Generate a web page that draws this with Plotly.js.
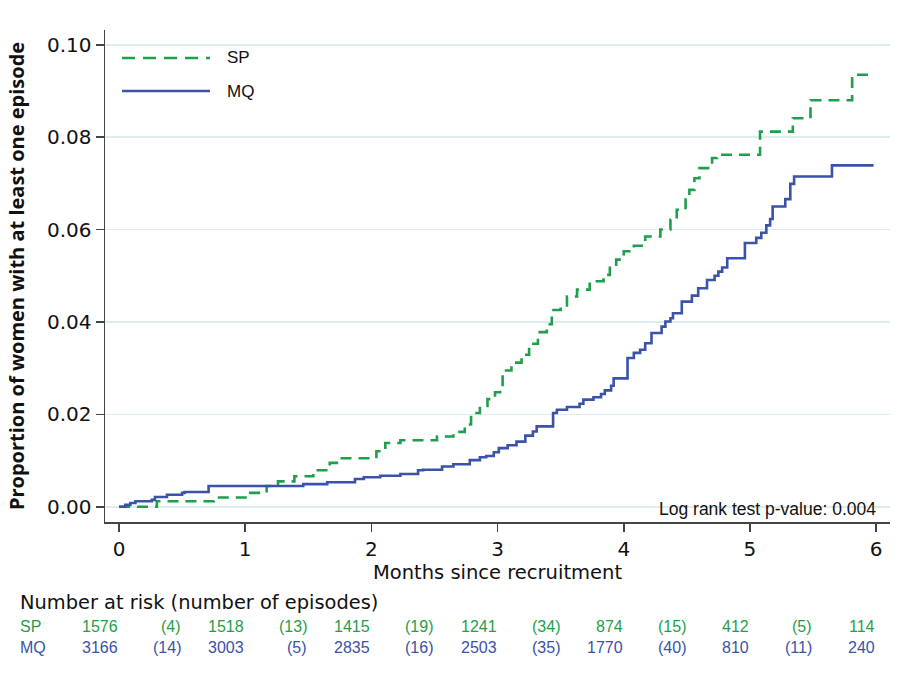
<!DOCTYPE html>
<html>
<head>
<meta charset="utf-8">
<script src="https://cdn.plot.ly/plotly-3.0.1.min.js"></script>
<style>html,body{margin:0;padding:0;background:#fff;}#chart{width:905px;height:679px;}</style>
</head>
<body>
<div id="chart"></div>
<script>
// Kaplan-Meier style cumulative proportions (step changes)
const spMonths = [0, 0.30, 0.75, 1.04, 1.17, 1.26, 1.39, 1.54, 1.67, 1.74, 2.04, 2.11, 2.23, 2.52, 2.65, 2.74, 2.79, 2.86, 2.92, 2.98, 3.02, 3.04, 3.11, 3.19, 3.25, 3.32, 3.39, 3.43, 3.50, 3.55, 3.63, 3.73, 3.84, 3.89, 3.94, 4.00, 4.08, 4.17, 4.29, 4.37, 4.42, 4.49, 4.52, 4.56, 4.60, 4.70, 4.74, 5.08, 5.34, 5.48, 5.81, 5.98];
const spProp   = [0, 0.0012, 0.0020, 0.0030, 0.0045, 0.0055, 0.0066, 0.0079, 0.0095, 0.0105, 0.0120, 0.0138, 0.0144, 0.0152, 0.0162, 0.0178, 0.0203, 0.0218, 0.0233, 0.0248, 0.0258, 0.0295, 0.0312, 0.0329, 0.0353, 0.0378, 0.0395, 0.0426, 0.0433, 0.0455, 0.0470, 0.0488, 0.0502, 0.0524, 0.0535, 0.0553, 0.0565, 0.0585, 0.0600, 0.0621, 0.0643, 0.0665, 0.0686, 0.0711, 0.0733, 0.0755, 0.0762, 0.0812, 0.0841, 0.0880, 0.0935, 0.0935];

const mqMonths = [0, 0.05, 0.09, 0.13, 0.26, 0.285, 0.38, 0.50, 0.52, 0.71, 1.46, 1.65, 1.87, 1.94, 2.07, 2.23, 2.37, 2.41, 2.56, 2.65, 2.78, 2.86, 2.91, 2.97, 3.01, 3.08, 3.15, 3.22, 3.28, 3.31, 3.44, 3.47, 3.55, 3.65, 3.68, 3.76, 3.82, 3.85, 3.90, 3.92, 4.03, 4.08, 4.13, 4.17, 4.22, 4.30, 4.33, 4.37, 4.39, 4.46, 4.54, 4.59, 4.66, 4.72, 4.75, 4.78, 4.82, 4.96, 5.05, 5.09, 5.13, 5.16, 5.18, 5.28, 5.32, 5.35, 5.65, 5.98];
const mqProp   = [0, 0.0004, 0.0008, 0.0012, 0.0015, 0.0021, 0.0026, 0.0030, 0.0032, 0.0045, 0.0049, 0.0053, 0.0060, 0.0064, 0.0067, 0.0071, 0.0079, 0.0080, 0.0087, 0.0092, 0.0101, 0.0107, 0.0110, 0.0118, 0.0127, 0.0133, 0.0141, 0.0154, 0.0163, 0.0174, 0.0203, 0.0210, 0.0216, 0.0223, 0.0232, 0.0237, 0.0244, 0.0252, 0.0262, 0.0278, 0.0322, 0.0333, 0.0340, 0.0354, 0.0376, 0.0390, 0.0401, 0.0408, 0.0419, 0.0444, 0.0457, 0.0473, 0.0491, 0.0500, 0.0509, 0.0518, 0.0538, 0.0571, 0.0582, 0.0593, 0.0609, 0.0623, 0.0650, 0.0666, 0.0699, 0.0715, 0.0739, 0.0739];

// Number-at-risk table
const riskPositions = [0, 0.5, 1, 1.5, 2, 2.5, 3, 3.5, 4, 4.5, 5, 5.5, 6];
const spRisk = ["1576", "(4)", "1518", "(13)", "1415", "(19)", "1241", "(34)", "874", "(15)", "412", "(5)", "114"];
const mqRisk = ["3166", "(14)", "3003", "(5)", "2835", "(16)", "2503", "(35)", "1770", "(40)", "810", "(11)", "240"];

const xTicks = [0, 1, 2, 3, 4, 5, 6];
const yTicks = [0, 0.02, 0.04, 0.06, 0.08, 0.10];

const GREEN = "#1f9e4b";
const BLUE = "#3a52a8";
const FONT = "Liberation Sans, Arial, sans-serif";
const WIDE = "DejaVu Sans, sans-serif";

const traces = [
  {x: spMonths, y: spProp, name: "SP", mode: "lines", line: {shape: "hv", color: GREEN, width: 2.6, dash: "11px,7px"}, showlegend: false},
  {x: mqMonths, y: mqProp, name: "MQ", mode: "lines", line: {shape: "hv", color: BLUE, width: 2.6}, showlegend: false}
];

const annotations = [];
annotations.push({xref: "paper", yref: "paper", x: -0.1108, y: -0.1646, xanchor: "left", yanchor: "middle", showarrow: false, text: "Number at risk (number of episodes)", font: {family: WIDE, size: 19.4, color: "#111"}});
annotations.push({xref: "paper", yref: "paper", x: -0.1108, y: -0.2134, xanchor: "left", yanchor: "middle", showarrow: false, text: "SP", font: {family: FONT, size: 16, color: GREEN}});
annotations.push({xref: "paper", yref: "paper", x: -0.1108, y: -0.2541, xanchor: "left", yanchor: "middle", showarrow: false, text: "MQ", font: {family: FONT, size: 16, color: BLUE}});
riskPositions.forEach((p, i) => {
  annotations.push({xref: "x", yref: "paper", x: p, y: -0.2134, xanchor: "right", yanchor: "middle", xshift: 1, showarrow: false, text: spRisk[i], font: {family: FONT, size: 16, color: GREEN}});
  annotations.push({xref: "x", yref: "paper", x: p, y: -0.2541, xanchor: "right", yanchor: "middle", xshift: 1, showarrow: false, text: mqRisk[i], font: {family: FONT, size: 16, color: BLUE}});
});
annotations.push({xref: "paper", yref: "paper", x: 0.9847, y: 0.027, xanchor: "right", yanchor: "middle", showarrow: false, text: "Log rank test p-value: 0.004", font: {family: FONT, size: 17.5, color: "#111"}});
// legend labels
annotations.push({xref: "paper", yref: "paper", x: 0.1529, y: 0.9431, xanchor: "left", yanchor: "middle", showarrow: false, text: "SP", font: {family: FONT, size: 17, color: "#111"}});
annotations.push({xref: "paper", yref: "paper", x: 0.1529, y: 0.8760, xanchor: "left", yanchor: "middle", showarrow: false, text: "MQ", font: {family: FONT, size: 17, color: "#111"}});

const shapes = [
  {type: "line", xref: "paper", yref: "paper", x0: 0.0217, x1: 0.1338, y0: 0.9431, y1: 0.9431, line: {color: GREEN, width: 2.6, dash: "13px,8px"}},
  {type: "line", xref: "paper", yref: "paper", x0: 0.0217, x1: 0.1338, y0: 0.8760, y1: 0.8760, line: {color: BLUE, width: 2.6}}
];

const layout = {
  width: 905, height: 679,
  margin: {l: 105, r: 15, t: 30, b: 157},
  paper_bgcolor: "#ffffff", plot_bgcolor: "#ffffff",
  showlegend: false,
  xaxis: {
    range: [-0.111, 6.11], tickvals: xTicks, ticktext: xTicks.map(String),
    showgrid: false, zeroline: false, showline: true, linecolor: "#444", linewidth: 1.5,
    ticks: "outside", ticklen: 8, tickwidth: 1.5, tickcolor: "#444",
    tickfont: {family: WIDE, size: 20, color: "#111"},
    title: {text: "Months since recruitment", font: {family: WIDE, size: 19.5, color: "#111"}, standoff: 6}
  },
  yaxis: {
    range: [-0.0033, 0.1032], tickvals: yTicks, tickformat: ".2f",
    showgrid: true, gridcolor: "#ddeced", gridwidth: 1.5, zeroline: false,
    showline: true, linecolor: "#444", linewidth: 1.5,
    ticks: "outside", ticklen: 8, tickwidth: 1.5, tickcolor: "#444",
    tickfont: {family: WIDE, size: 20, color: "#111"},
    title: {text: "Proportion of women with at least one episode", font: {family: "Open Sans, sans-serif", size: 20, color: "#111", weight: 700}, standoff: 17}
  },
  annotations: annotations,
  shapes: shapes
};

Plotly.newPlot("chart", traces, layout, {staticPlot: true, displayModeBar: false});
</script>
</body>
</html>
